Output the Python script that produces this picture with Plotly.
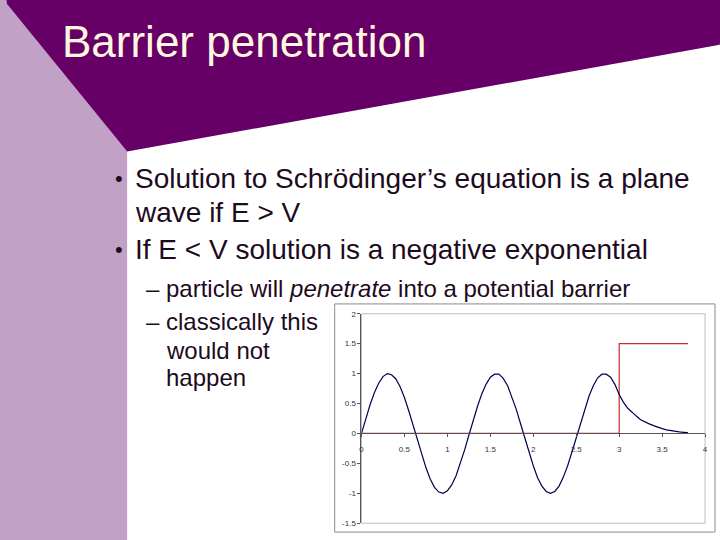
import plotly.graph_objects as go

# wave function (x step 0.05)
x_psi = [round(i * 0.05, 2) for i in range(77)]
psi = [0.0, 0.25, 0.48, 0.68, 0.84, 0.95, 1.0, 0.98, 0.91, 0.78, 0.6, 0.38, 0.14,
       -0.11, -0.35, -0.57, -0.76, -0.9, -0.98, -1.0, -0.96, -0.86, -0.71, -0.51, -0.28,
       -0.03, 0.22, 0.45, 0.66, 0.82, 0.94, 0.99, 0.99, 0.92, 0.8, 0.62, 0.41, 0.17,
       -0.08, -0.32, -0.54, -0.74, -0.88, -0.97, -1.0, -0.97, -0.88, -0.73, -0.54, -0.31,
       -0.07, 0.18, 0.42, 0.63, 0.8, 0.93, 0.99, 0.99, 0.94, 0.82, 0.65,
       0.52, 0.42, 0.35, 0.29, 0.23, 0.19, 0.16, 0.13, 0.1, 0.08, 0.06, 0.045, 0.035,
       0.025, 0.018, 0.012]

# potential step
x_pot = [0, 3, 3, 3.8]
v_pot = [0, 0, 1.5, 1.5]

x_ticks = [0, 0.5, 1, 1.5, 2, 2.5, 3, 3.5, 4]
y_ticks = [2, 1.5, 1, 0.5, 0, -0.5, -1, -1.5]

title = "Barrier penetration"
bullets = ["Solution to Schrödinger’s equation is a plane",
           "wave if E > V",
           "If E < V solution is a negative exponential"]
subs = ["particle will <i>penetrate</i> into a potential barrier",
        "classically this", "would not", "happen"]

W, H = 720, 540
def px(x):
    return x / W
def py(y):
    return 1 - y / H

fig = go.Figure()
fig.add_trace(go.Scatter(x=x_pot, y=v_pot, mode='lines',
                         line=dict(color='#C42A30', width=1.2), hoverinfo='skip'))
fig.add_trace(go.Scatter(x=x_psi, y=psi, mode='lines',
                         line=dict(color='#000050', width=1.2), hoverinfo='skip'))

dom_x = [px(362), px(708)]
dom_y = [py(528), py(315)]
y_rng = [-1.5, 2]
zero_pos = dom_y[0] + (0 - y_rng[0]) / (y_rng[1] - y_rng[0]) * (dom_y[1] - dom_y[0])

tickfont = dict(family='Liberation Sans, Arial', size=8, color='#333333')

shapes = [
    # light purple side band (runs a bit past the page edges)
    dict(type='path', xref='paper', yref='paper', layer='below', line_width=0,
         fillcolor='#C1A1C5',
         path=f"M -0.05 1.05 L {px(1)} 1.05 L {px(5)} 1 L {px(126)} {py(150)} "
              f"L {px(126)} -0.05 L -0.05 -0.05 Z"),
    # dark purple header
    dict(type='path', xref='paper', yref='paper', layer='below', line_width=0,
         fillcolor='#660066',
         path=f"M {px(1)} 1.05 L 1.05 1.05 L 1.05 {py(31)} L 1 {py(42)} "
              f"L {px(126)} {py(150)} L {px(5)} 1 Z"),
    # chart frame
    dict(type='rect', xref='paper', yref='paper', layer='below',
         x0=px(335), x1=px(718), y0=py(537), y1=py(305),
         line=dict(color='#8C8C8C', width=1), fillcolor='white'),
    # plot area border
    dict(type='rect', xref='x domain', yref='y domain', layer='below',
         x0=0, x1=1, y0=0, y1=1, line=dict(color='#BDBDBD', width=1)),
]

annotations = [dict(text=title, x=px(58), y=py(38), xref='paper', yref='paper',
                    xanchor='left', yanchor='middle', showarrow=False,
                    font=dict(family='Liberation Sans, Arial', size=44, color='#FFF8E1'))]

txt = '#1E0A1E'
for s, yy, dot in zip(bullets, [177, 212, 250], [True, False, True]):
    annotations.append(dict(text=s, x=px(132), y=py(yy), xref='paper', yref='paper',
                            xanchor='left', yanchor='middle', showarrow=False,
                            font=dict(family='Liberation Sans, Arial', size=28, color=txt)))
    if dot:
        annotations.append(dict(text='•', x=px(118), y=py(yy), xref='paper', yref='paper',
                                xanchor='center', yanchor='middle', showarrow=False,
                                font=dict(family='Liberation Sans, Arial', size=22, color=txt)))

for s, yy, dash in zip(subs, [289, 323, 352, 380], [True, True, False, False]):
    annotations.append(dict(text=s, x=px(163), y=py(yy), xref='paper', yref='paper',
                            xanchor='left', yanchor='middle', showarrow=False,
                            font=dict(family='Liberation Sans, Arial', size=24, color=txt)))
    if dash:
        annotations.append(dict(text='–', x=px(152), y=py(yy), xref='paper', yref='paper',
                                xanchor='center', yanchor='middle', showarrow=False,
                                font=dict(family='Liberation Sans, Arial', size=24, color=txt)))

fig.update_layout(
    width=W, height=H, margin=dict(l=0, r=0, t=0, b=0),
    paper_bgcolor='white', plot_bgcolor='rgba(0,0,0,0)', showlegend=False,
    shapes=shapes, annotations=annotations,
    xaxis=dict(domain=dom_x, range=[0, 4], anchor='free', position=zero_pos,
               tickvals=x_ticks, ticktext=[f"{v:g}" for v in x_ticks],
               showline=True, linecolor='#555555', linewidth=1, showgrid=False,
               zeroline=False, ticks='outside', ticklen=3, tickcolor='#555555',
               ticklabelstandoff=5, tickfont=tickfont),
    yaxis=dict(domain=dom_y, range=y_rng, tickvals=y_ticks,
               ticktext=[f"{v:g}" for v in y_ticks],
               showline=True, linecolor='#555555', linewidth=1, showgrid=False,
               zeroline=False, ticks='outside', ticklen=3, tickcolor='#555555',
               tickfont=tickfont),
)

# drop the page's default body margin so the figure fills the window
fig.write_html("out.html", config={'displayModeBar': False},
               post_script="document.body.style.margin='0';document.body.style.overflow='hidden';")
